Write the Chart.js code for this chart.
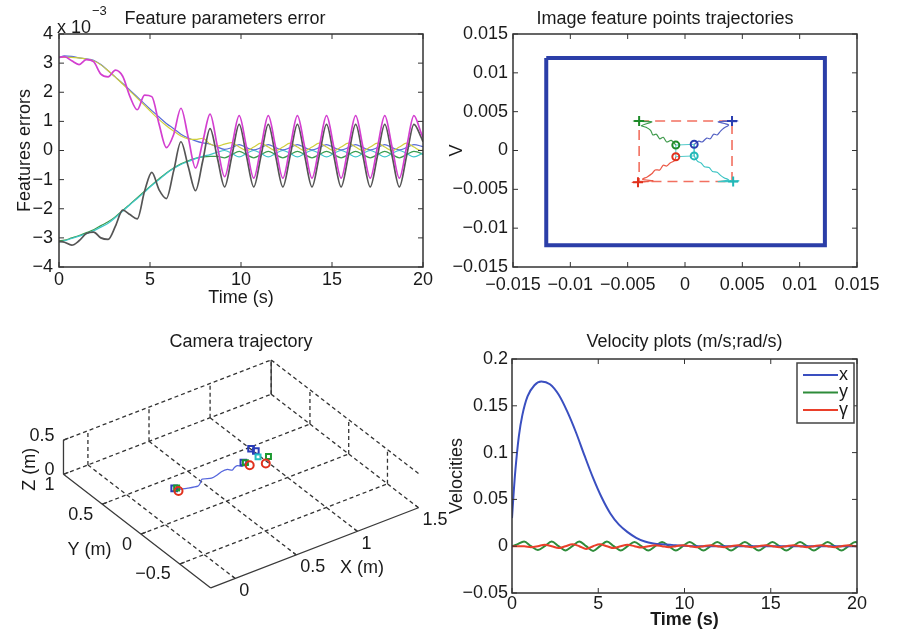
<!DOCTYPE html>
<html>
<head>
<meta charset="utf-8">
<title>Visual servoing simulation results</title>
<script src="https://cdn.jsdelivr.net/npm/chart.js@4.4.1/dist/chart.umd.min.js"></script>
<style>
  html, body { margin: 0; padding: 0; background: #ffffff; width: 906px; height: 634px; overflow: hidden; }
  canvas { position: absolute; }
</style>
</head>
<body>
<canvas id="c1" width="450" height="310" style="left:0px;top:0px"></canvas>
<canvas id="c2" width="450" height="310" style="left:440px;top:0px"></canvas>
<canvas id="c3" width="482" height="314" style="left:0px;top:320px"></canvas>
<canvas id="c4" width="489" height="314" style="left:440px;top:320px"></canvas>
<script>
// ===================== DATA =====================
// shared time samples (s)
const timeS = [0,0.3,0.7,1.1,1.5,1.9,2.3,2.7,3.1,3.5,3.9,4.3,4.7,5.1,5.5,5.9,6.3,6.7,7.1,7.5,7.9,8.3,8.7,9.1,9.5,9.9,10.3,10.7,11.1,11.5,11.9,12.3,12.7,13.1,13.5,13.9,14.3,14.7,15.1,15.5,15.9,16.3,16.7,17.1,17.5,17.9,18.3,18.7,19.1,19.5,19.9,20];

// Panel 1: feature parameter errors (x 10^-3)
const errMagenta = [3.2,3.22,3.08,2.95,3.12,3.05,2.62,2.53,2.76,2.55, 1.85,1.4,1.9,1.85,0.9,0.1,0.55,1.45,0.45,-0.6, 0.3,1.25,0.15,-0.9,0.15,1.2,0.12,-0.95,0.12,1.2, 0.12,-0.95,0.12,1.2,0.12,-0.95,0.12,1.2,0.12,-0.95, 0.12,1.2,0.12,-0.95,0.12,1.2,0.12,-0.95,0.12,1.2, 0.6,0.45];
const errBlack = [-3.12,-3.15,-3.25,-3.1,-2.85,-2.8,-3.0,-3.05,-2.6,-2.05, -2.2,-2.35,-1.4,-0.75,-1.35,-1.65,-0.7,0.3,-0.55,-1.38, -0.35,0.75,-0.25,-1.25,-0.18,0.9,-0.18,-1.25,-0.18,0.9, -0.18,-1.25,-0.18,0.9,-0.18,-1.25,-0.18,0.9,-0.18,-1.25, -0.18,0.9,-0.18,-1.25,-0.18,0.9,-0.18,-1.25,-0.18,0.9, 0.45,0.3];
const errBlue = [3.2,3.25,3.23,3.18,3.15,3.1,2.95,2.74,2.52,2.3, 2.07,1.84,1.6,1.37,1.15,0.93,0.75,0.56,0.43,0.33, 0.26,0.22,0.12,0.04,0.1,0.2,0.1,0.02,0.1,0.2, 0.1,0.02,0.1,0.2,0.1,0.02,0.1,0.2,0.1,0.02, 0.1,0.2,0.1,0.02,0.1,0.2,0.1,0.02,0.1,0.2, 0.15,0.13];
const errYellow = [3.2,3.2,3.2,3.18,3.14,3.08,2.94,2.74,2.52,2.28, 2.04,1.8,1.55,1.3,1.06,0.85,0.67,0.5,0.4,0.38, 0.42,0.22,0.15,0.22,0.27,0.12,0.0,0.12,0.25,0.12, 0.0,0.12,0.25,0.12,0.0,0.12,0.25,0.12,0.0,0.12, 0.25,0.12,0.0,0.12,0.25,0.12,0.0,0.12,0.25,0.12, 0.0,0.03];
const errCyan = [-3.15,-3.1,-3.02,-2.94,-2.86,-2.76,-2.63,-2.5,-2.3,-2.08, -1.86,-1.65,-1.43,-1.2,-1.0,-0.79,-0.62,-0.48,-0.38,-0.28, -0.2,-0.14,-0.06,0.0,-0.1,-0.22,-0.1,0.0,-0.1,-0.22, -0.1,0.0,-0.1,-0.22,-0.1,0.0,-0.1,-0.22,-0.1,0.0, -0.1,-0.22,-0.1,0.0,-0.1,-0.22,-0.1,0.0,-0.1,-0.22, -0.12,-0.08];
const errGreen = [-3.1,-3.08,-3.0,-2.92,-2.82,-2.72,-2.58,-2.45,-2.27,-2.06, -1.84,-1.62,-1.4,-1.18,-0.97,-0.77,-0.6,-0.46,-0.35,-0.27, -0.22,-0.2,-0.2,-0.25,-0.14,-0.03,-0.14,-0.25,-0.14,-0.03, -0.14,-0.25,-0.14,-0.03,-0.14,-0.25,-0.14,-0.03,-0.14,-0.25, -0.14,-0.03,-0.14,-0.25,-0.14,-0.03,-0.14,-0.25,-0.14,-0.03, -0.1,-0.14];
const p1XTicks = [0,5,10,15,20];
const p1XTickLabels = ['0','5','10','15','20'];
const p1YTicks = [-4,-3,-2,-1,0,1,2,3,4];
const p1YTickLabels = ['\u22124','\u22123','\u22122','\u22121','0','1','2','3','4'];

// Panel 2: image feature point trajectories (u, v)
const imgBorderX = [-0.0121,0.0122,0.0122,-0.0121,-0.0121];
const imgBorderY = [0.0119,0.0119,-0.0122,-0.0122,0.0119];
const desiredX = [-0.004,0.0041,0.0041,-0.004,-0.004];
const desiredY = [0.0038,0.0038,-0.004,-0.004,0.0038];
const initialX = [-0.0008,0.0008,0.0008,-0.0008,-0.0008];
const initialY = [0.0007,0.0008,-0.0007,-0.0008,0.0007];
const trajGreenX = [-0.0008,-0.0012,-0.0016,-0.0019,-0.0022,-0.0025,-0.0028,-0.0030,-0.0034,-0.0038,-0.0029,-0.0045,-0.0032,-0.0044,-0.0036,-0.0042,-0.0040];
const trajGreenY = [0.0007,0.0013,0.0011,0.0017,0.0015,0.0021,0.0020,0.0026,0.0030,0.0032,0.0037,0.0038,0.0037,0.0038,0.0038,0.0038,0.0038];
const trajBlueX = [0.0008,0.0012,0.0015,0.0019,0.0022,0.0025,0.0028,0.0031,0.0034,0.0038,0.0029,0.0046,0.0033,0.0045,0.0038,0.0042,0.0041];
const trajBlueY = [0.0008,0.0012,0.0011,0.0016,0.0015,0.0021,0.0020,0.0025,0.0029,0.0033,0.0037,0.0038,0.0038,0.0037,0.0038,0.0038,0.0038];
const trajRedX = [-0.0008,-0.0009,-0.0013,-0.0016,-0.0019,-0.0022,-0.0026,-0.0029,-0.0033,-0.0037,-0.0028,-0.0046,-0.0032,-0.0045,-0.0037,-0.0042,-0.0041];
const trajRedY = [-0.0008,-0.0013,-0.0016,-0.0020,-0.0019,-0.0025,-0.0025,-0.0030,-0.0034,-0.0037,-0.0039,-0.0041,-0.0040,-0.0041,-0.0041,-0.0041,-0.0041];
const trajCyanX = [0.0008,0.0011,0.0014,0.0017,0.0021,0.0024,0.0028,0.0031,0.0034,0.0038,0.0029,0.0047,0.0034,0.0046,0.0039,0.0043,0.0042];
const trajCyanY = [-0.0007,-0.0014,-0.0016,-0.0021,-0.0022,-0.0027,-0.0028,-0.0032,-0.0035,-0.0038,-0.0040,-0.0039,-0.0040,-0.0040,-0.0039,-0.0040,-0.0040];
const p2Ticks = [-0.015,-0.01,-0.005,0,0.005,0.01,0.015];
const p2TickLabels = ['\u22120.015','\u22120.01','\u22120.005','0','0.005','0.01','0.015'];

// Panel 3: camera trajectory (3D, metres)
const p3XLim = [-0.2, 1.5];
const p3YLim = [-0.9, 1];
const p3ZLim = [0, 0.5];
const p3XTicks = [0,0.5,1,1.5];
const p3XTickLabels = ['0','0.5','1','1.5'];
const p3YTicks = [-0.5,0,0.5,1];
const p3YTickLabels = ['\u22120.5','0','0.5','1'];
const p3ZTicks = [0,0.5];
const p3ZTickLabels = ['0','0.5'];
const p3TrajX = [0.31,0.38,0.45,0.48,0.52,0.58,0.63,0.68,0.73,0.75,0.78,0.81,0.83,0.87,0.88];
const p3TrajY = [0.34,0.31,0.29,0.31,0.35,0.32,0.33,0.35,0.35,0.32,0.34,0.35,0.32,0.34,0.31];
const p3TrajZ = [0,0,0,0,0,0,0,0,0,0,0,0,0,0,0];
const p3RedMarkX = [0.31,0.88,0.98];   const p3RedMarkY = [0.32,0.30,0.25];  const p3RedMarkZ = [0,0,0];
const p3GreenMarkX = [0.32,0.87,1.04]; const p3GreenMarkY = [0.36,0.34,0.31]; const p3GreenMarkZ = [0,0.01,0.01];
const p3BlueMarkX = [0.30,0.86,1.0,0.98]; const p3BlueMarkY = [0.36,0.35,0.41,0.44]; const p3BlueMarkZ = [0.01,0.01,0.03,0.05];
const p3CyanMarkX = [0.98]; const p3CyanMarkY = [0.35]; const p3CyanMarkZ = [0.01];

// Panel 4: velocities
const velXTime = [0,0.1,0.2,0.4,0.6,0.9,1.3,1.7,2.2,2.7,3.2,3.7,4.2,4.7,5.2,5.7,6.2,6.7,7.2,7.7,8.2,8.7,9.5,10.5,12,14,16,18,20];
const velX = [0.03,0.058,0.082,0.118,0.14,0.16,0.172,0.176,0.173,0.162,0.144,0.122,0.097,0.073,0.052,0.035,0.023,0.015,0.009,0.005,0.003,0.002,0.001,0,0,0,0,0,0];
const velY = [0,0.002,0.005,0,-0.004,0,0.005,0,-0.0045,0, 0.005,0,-0.005,0,0.005,0,-0.0045,0,0.0045,0, -0.0045,0,0.0045,0,-0.0045,0,0.0045,0,-0.0045,0, 0.0045,0,-0.0045,0,0.0045,0,-0.0045,0,0.0045,0, -0.0045,0,0.0045,0,-0.0045,0,0.0045,0,-0.0045,0, 0.0045,0.004];
const velGamma = [0,0,0,-0.001,0,0.0015,0,-0.002,0,0.002, 0,-0.003,0,0.002,0,-0.002,0,0.0015,0,-0.0015, 0,0.001,0,-0.001,0,0.001,0,-0.001,0,0.001, 0,-0.001,0,0.001,0,-0.001,0,0.001,0,-0.001, 0,0.001,0,-0.001,0,0.001,0,-0.001,0,0.001, 0,0];
const p4XTicks = [0,5,10,15,20];
const p4XTickLabels = ['0','5','10','15','20'];
const p4YTicks = [-0.05,0,0.05,0.1,0.15,0.2];
const p4YTickLabels = ['\u22120.05','0','0.05','0.1','0.15','0.2'];

// ===================== HELPERS =====================
const FONT = "'Liberation Sans', Arial, Helvetica, sans-serif";
Chart.defaults.font.family = FONT;
Chart.defaults.font.size = 18;
Chart.defaults.color = '#1a1a1a';
Chart.defaults.animation = false;

function pts(xs, ys) { return xs.map((x, i) => ({ x: x, y: ys[i] })); }
function fixedTicks(values) { return function (scale) { scale.ticks = values.map(v => ({ value: v })); }; }
function tickLabel(values, labels) { return function (value) { const i = values.indexOf(value); return i < 0 ? '' : labels[i]; }; }
function lineDs(xs, ys, color, width, extra) {
  return Object.assign({ data: pts(xs, ys), borderColor: color, backgroundColor: color, borderWidth: width,
    pointRadius: 0, cubicInterpolationMode: 'monotone', fill: false }, extra || {});
}
function hiddenRight(w) {
  return { position: 'right', display: true, ticks: { display: false }, grid: { display: false, drawTicks: false },
    border: { display: false }, afterFit: s => { s.width = w; } };
}
function valueAxis(min, max, ticks, labels, pad, size, horizontal, title) {
  const o = { type: 'linear', min: min, max: max, afterBuildTicks: fixedTicks(ticks),
    ticks: { callback: tickLabel(ticks, labels), padding: pad, autoSkip: false, maxRotation: 0, minRotation: 0 },
    grid: { display: false, drawTicks: false }, border: { display: false } };
  if (horizontal) o.afterFit = s => { s.height = size; }; else o.afterFit = s => { s.width = size; };
  if (title) o.title = title;
  return o;
}
function titleOpts(text, top, bottom) {
  return { display: true, text: text, color: '#1a1a1a', font: { size: 18, weight: 'normal' }, padding: { top: top, bottom: bottom } };
}

// MATLAB-like box with inward tick marks on all four sides
const matlabBox = {
  id: 'matlabBox',
  afterDatasetsDraw(chart) {
    const { ctx, chartArea: a, scales } = chart;
    const xs = scales.x, ys = scales.y, L = 5;
    ctx.save();
    ctx.strokeStyle = '#333333';
    ctx.lineWidth = 1;
    ctx.beginPath();
    xs.ticks.forEach(t => {
      const p = xs.getPixelForValue(t.value);
      ctx.moveTo(p, a.bottom); ctx.lineTo(p, a.bottom - L);
      ctx.moveTo(p, a.top); ctx.lineTo(p, a.top + L);
    });
    ys.ticks.forEach(t => {
      const p = ys.getPixelForValue(t.value);
      ctx.moveTo(a.left, p); ctx.lineTo(a.left + L, p);
      ctx.moveTo(a.right, p); ctx.lineTo(a.right - L, p);
    });
    ctx.stroke();
    ctx.lineWidth = 1.5;
    ctx.strokeRect(a.left, a.top, a.right - a.left, a.bottom - a.top);
    ctx.restore();
  }
};

const baseOpts = { responsive: false, devicePixelRatio: 1, animation: false, layout: { padding: 0 } };

// ===================== PANEL 1 =====================
const p1Exponent = {
  id: 'p1Exponent',
  afterDraw(chart) {
    const ctx = chart.ctx, a = chart.chartArea;
    ctx.save();
    ctx.fillStyle = '#1a1a1a';
    ctx.textAlign = 'left';
    ctx.textBaseline = 'alphabetic';
    ctx.font = '18px ' + FONT;
    ctx.fillText('x 10', a.left - 2, a.top - 1);
    ctx.font = '13px ' + FONT;
    ctx.fillText('\u22123', a.left + 33, a.top - 19);
    ctx.restore();
  }
};
new Chart(document.getElementById('c1'), {
  type: 'line',
  data: { datasets: [
    lineDs(timeS, errMagenta, '#d33fd0', 1.7),
    lineDs(timeS, errBlack, '#555555', 1.7),
    lineDs(timeS, errYellow, '#cfcf3c', 1.2),
    lineDs(timeS, errBlue, '#5a6ed8', 1.2),
    lineDs(timeS, errCyan, '#3fc6c8', 1.2),
    lineDs(timeS, errGreen, '#3a9c4e', 1.2)
  ] },
  options: Object.assign({}, baseOpts, {
    plugins: { legend: { display: false }, tooltip: { enabled: false }, title: titleOpts('Feature parameters error', 8, 4.4) },
    scales: {
      x: valueAxis(0, 20, p1XTicks, p1XTickLabels, 2.6, 43, true,
        { display: true, text: 'Time (s)', color: '#1a1a1a', padding: { top: 0, bottom: 1.4 } }),
      y: valueAxis(-4, 4, p1YTicks, p1YTickLabels, 6, 59, false,
        { display: true, text: 'Features errors', color: '#1a1a1a', padding: { top: 14.7, bottom: 0 } }),
      yR: hiddenRight(27)
    }
  }),
  plugins: [matlabBox, p1Exponent]
});

// ===================== PANEL 2 =====================
function trajDs(xs, ys, lineColor, markColor) {
  const n = xs.length;
  return { data: pts(xs, ys), showLine: true, borderColor: lineColor, borderWidth: 1.2, tension: 0.3,
    pointRadius: xs.map((_, i) => i === 0 ? 3.5 : (i === n - 1 ? 5 : 0)),
    pointStyle: xs.map((_, i) => i === 0 ? 'circle' : 'cross'),
    pointBorderColor: markColor, pointBackgroundColor: 'rgba(0,0,0,0)', pointBorderWidth: 2 };
}
new Chart(document.getElementById('c2'), {
  type: 'scatter',
  data: { datasets: [
    trajDs(trajGreenX, trajGreenY, '#3f9a4c', '#1c8a28'),
    trajDs(trajBlueX, trajBlueY, '#5562c4', '#2a3db0'),
    trajDs(trajRedX, trajRedY, '#ec5a48', '#e0301c'),
    trajDs(trajCyanX, trajCyanY, '#3cc4c4', '#22b8b8'),
    { data: pts(initialX, initialY), showLine: true, borderColor: '#52caca', borderWidth: 1, pointRadius: 0, tension: 0 },
    { data: pts(desiredX, desiredY), showLine: true, borderColor: '#f27060', borderWidth: 1.6, borderDash: [10, 6], pointRadius: 0, tension: 0 },
    { data: pts(imgBorderX, imgBorderY), showLine: true, borderColor: '#2b3ea8', borderWidth: 4, pointRadius: 0, tension: 0 }
  ] },
  options: Object.assign({}, baseOpts, {
    plugins: { legend: { display: false }, tooltip: { enabled: false }, title: titleOpts('Image feature points trajectories', 8, 4.4) },
    scales: {
      x: valueAxis(-0.015, 0.015, p2Ticks, p2TickLabels, 7, 43, true, null),
      y: valueAxis(-0.015, 0.015, p2Ticks, p2TickLabels, 5, 73, false,
        { display: true, text: 'V', color: '#1a1a1a', padding: { top: 6, bottom: 0 } }),
      yR: hiddenRight(33)
    }
  }),
  plugins: [matlabBox]
});

// ===================== PANEL 3 (3D view) =====================
// oblique view projection: page-pixel position of (Xmin,Ymin,0) and per-unit screen steps
const VIEW = { ox: 210, oy: 593, ex: [125.3, -48.2], ey: [-79.5, -61.1], ez: [0, -70] };
function proj(X, Y, Z) {
  const a = X - p3XLim[0], b = Y - p3YLim[0];
  return { x: VIEW.ox + a * VIEW.ex[0] + b * VIEW.ey[0] + Z * VIEW.ez[0],
           y: VIEW.oy + a * VIEW.ex[1] + b * VIEW.ey[1] + Z * VIEW.ez[1] };
}
function segData(segs) {
  const out = [];
  segs.forEach(s => { out.push(proj(s[0][0], s[0][1], s[0][2]), proj(s[1][0], s[1][1], s[1][2]), { x: NaN, y: NaN }); });
  return out;
}
const [x0, x1] = p3XLim, [y0, y1] = p3YLim, [z0, z1] = p3ZLim;
const gridSegs = [];
p3XTicks.forEach(x => { gridSegs.push([[x, y0, z0], [x, y1, z0]]); gridSegs.push([[x, y1, z0], [x, y1, z1]]); });
p3YTicks.forEach(y => { gridSegs.push([[x0, y, z0], [x1, y, z0]]); gridSegs.push([[x1, y, z0], [x1, y, z1]]); });
p3ZTicks.forEach(z => { gridSegs.push([[x0, y1, z], [x1, y1, z]]); gridSegs.push([[x1, y0, z], [x1, y1, z]]); });
const axisSegs = [
  [[x0, y0, z0], [x1, y0, z0]], [[x0, y0, z0], [x0, y1, z0]], [[x0, y1, z0], [x0, y1, z1]], [[x1, y1, z0], [x1, y1, z1]]
];
p3XTicks.forEach(x => axisSegs.push([[x, y0, z0], [x, y0 + 0.04, z0]]));
p3YTicks.forEach(y => axisSegs.push([[x0, y, z0], [x0 + 0.04, y, z0]]));
p3ZTicks.forEach(z => axisSegs.push([[x0, y1, z], [x0 + 0.04, y1, z]]));
function proj3(xs, ys, zs) { return xs.map((x, i) => proj(x, ys[i], zs[i])); }
function markDs(xs, ys, zs, color, style, r) {
  return { data: proj3(xs, ys, zs), showLine: false, pointStyle: style, pointRadius: r, pointBorderColor: color,
    pointBackgroundColor: 'rgba(0,0,0,0)', pointBorderWidth: 2, clip: false };
}
const p3Labels = {
  id: 'p3Labels',
  afterDraw(chart) {
    const { ctx, scales } = chart;
    const px = p => ({ x: scales.x.getPixelForValue(p.x), y: scales.y.getPixelForValue(p.y) });
    ctx.save();
    ctx.font = '18px ' + FONT;
    ctx.fillStyle = '#1a1a1a';
    ctx.textBaseline = 'middle';
    ctx.textAlign = 'left';
    p3XTicks.forEach((v, i) => { const q = px(proj(v, y0, z0)); ctx.fillText(p3XTickLabels[i], q.x + 4, q.y + 12.5); });
    ctx.textAlign = 'right';
    p3YTicks.forEach((v, i) => { const q = px(proj(x0, v, z0)); ctx.fillText(p3YTickLabels[i], q.x - 9, q.y + 10.5); });
    p3ZTicks.forEach((v, i) => { const q = px(proj(x0, y1, v)); ctx.fillText(p3ZTickLabels[i], q.x - 9, q.y - 4); });
    ctx.textAlign = 'center';
    let q = px(proj(1.0, y0, z0)); ctx.fillText('X (m)', q.x + 4.6, q.y + 36.6);
    q = px(proj(x0, 0.1, z0)); ctx.fillText('Y (m)', q.x - 43.8, q.y + 21.5);
    q = px(proj(x0, y1, 0.25));
    ctx.translate(q.x - 33.2, q.y + 12); ctx.rotate(-Math.PI / 2); ctx.fillText('Z (m)', 0, 0);
    ctx.restore();
  }
};
new Chart(document.getElementById('c3'), {
  type: 'scatter',
  data: { datasets: [
    markDs(p3RedMarkX, p3RedMarkY, p3RedMarkZ, '#e0301c', 'circle', 4),
    markDs(p3GreenMarkX, p3GreenMarkY, p3GreenMarkZ, '#1c9a30', 'rect', 3.5),
    markDs(p3CyanMarkX, p3CyanMarkY, p3CyanMarkZ, '#22c0c0', 'rect', 3.5),
    markDs(p3BlueMarkX, p3BlueMarkY, p3BlueMarkZ, '#2a3db8', 'rect', 4),
    { data: proj3(p3TrajX, p3TrajY, p3TrajZ), showLine: true, borderColor: '#5566dd', borderWidth: 1.3, pointRadius: 0, tension: 0.2, clip: false },
    { data: segData(axisSegs), showLine: true, borderColor: '#3a3a3a', borderWidth: 1.3, pointRadius: 0, spanGaps: false, clip: false },
    { data: segData(gridSegs), showLine: true, borderColor: '#333333', borderWidth: 1.3, borderDash: [4, 3], pointRadius: 0, spanGaps: false, clip: false }
  ] },
  options: Object.assign({}, baseOpts, {
    plugins: { legend: { display: false }, tooltip: { enabled: false }, title: titleOpts('Camera trajectory', 11, 6.4) },
    scales: {
      x: { type: 'linear', display: false, min: 0, max: 482 },
      y: { type: 'linear', display: false, min: 359, max: 634, reverse: true }
    }
  }),
  plugins: [p3Labels]
});

// ===================== PANEL 4 =====================
const velLegend = {
  id: 'velLegend',
  afterDatasetsDraw(chart) {
    const { ctx, chartArea: a } = chart;
    const bx = a.right - 60, by = a.top + 4, bw = 57, bh = 60;
    ctx.save();
    ctx.fillStyle = '#ffffff'; ctx.fillRect(bx, by, bw, bh);
    ctx.strokeStyle = '#444444'; ctx.lineWidth = 1.5; ctx.strokeRect(bx, by, bw, bh);
    ctx.font = '18px ' + FONT; ctx.textBaseline = 'middle'; ctx.textAlign = 'left';
    chart.data.datasets.forEach((d, i) => {
      const y = by + 12 + i * 17.5;
      ctx.strokeStyle = d.borderColor; ctx.lineWidth = 2;
      ctx.beginPath(); ctx.moveTo(bx + 6, y); ctx.lineTo(bx + 41, y); ctx.stroke();
      ctx.fillStyle = '#1a1a1a'; ctx.fillText(d.label, bx + 42, y);
    });
    ctx.restore();
  }
};
new Chart(document.getElementById('c4'), {
  type: 'line',
  data: { datasets: [
    lineDs(velXTime, velX, '#3a4fc0', 2, { label: 'x', order: 1 }),
    lineDs(timeS, velY, '#2e8c3a', 2, { label: 'y', order: 2 }),
    lineDs(timeS, velGamma, '#ea3f2a', 2, { label: '\u03b3', order: 0 })
  ] },
  options: Object.assign({}, baseOpts, {
    plugins: { legend: { display: false }, tooltip: { enabled: false }, title: titleOpts('Velocity plots (m/s;rad/s)', 11, 6.4) },
    scales: {
      x: valueAxis(0, 20, p4XTicks, p4XTickLabels, 0, 41, true,
        { display: true, text: 'Time (s)', color: '#1a1a1a', font: { weight: 'bold' }, padding: { top: 0, bottom: 3.2 } }),
      y: valueAxis(-0.05, 0.2, p4YTicks, p4YTickLabels, 4, 72, false,
        { display: true, text: 'Velocities', color: '#1a1a1a', padding: { top: 6, bottom: 0 } }),
      yR: hiddenRight(72)
    }
  }),
  plugins: [matlabBox, velLegend]
});
</script>
</body>
</html>
